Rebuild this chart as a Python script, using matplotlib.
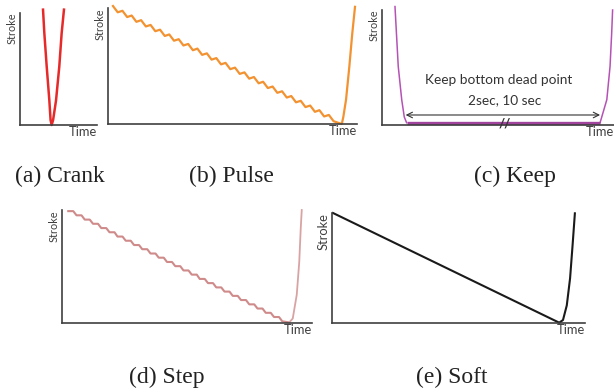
import numpy as np
import matplotlib.pyplot as plt

W, H = 614, 390

# (a) Crank
crank_t = [29.9, 31.6, 34.7, 38.1, 39.7, 41.1, 43.0, 46.8, 51.0, 54.1, 57.1]
crank_s = [103, 82, 52, 22, 4.5, 0, 4.5, 22, 52, 82, 103]

# (b) Pulse: ripple peaks / troughs, then the return stroke
pulse_peak_t = [2.0, 5.8, 9.5, 13.3, 17.1, 20.9, 24.6, 28.4, 32.2, 35.9, 39.7, 43.5,
                47.2, 51.0, 54.8, 58.6, 62.3, 66.1, 69.9, 73.6, 77.4, 81.2, 84.9, 88.7]
pulse_peak_s = [101.7, 97.6, 93.5, 89.5, 85.4, 81.3, 77.2, 73.1, 69.0, 65.0, 60.9, 56.8,
                52.7, 48.6, 44.5, 40.5, 36.4, 32.3, 28.2, 24.1, 20.0, 15.9, 11.9, 7.8]
pulse_trough_t = [3.9, 7.7, 11.4, 15.2, 19.0, 22.8, 26.5, 30.3, 34.1, 37.8, 41.6, 45.4,
                  49.1, 52.9, 56.7, 60.5, 64.2, 68.0, 71.8, 75.5, 79.3, 83.1, 86.8, 90.6]
pulse_trough_s = [96.3, 92.2, 88.1, 84.1, 80.0, 75.9, 71.8, 67.7, 63.6, 59.6, 55.5, 51.4,
                  47.3, 43.2, 39.1, 35.1, 31.0, 26.9, 22.8, 18.7, 14.6, 10.5, 6.5, 2.4]
pulse_rise_t = [93.9, 94.5, 95.6, 96.9, 98.1, 99.2]
pulse_rise_s = [0, 6, 21, 49, 78, 101]

# (c) Keep
keep_down_t = [5.6, 7.0, 8.5, 9.6, 10.6]
keep_down_s = [103, 51, 22, 7, 2]
keep_hold_t = [10.6, 94.0]
keep_hold_s = [2, 2]
keep_up_t = [94.0, 96.9, 98.3, 99.0, 99.4]
keep_up_s = [2, 22, 51, 80, 100]

# (d) Step
step_start_t = [2.5, 5.8, 9.1, 12.4, 15.7, 19.0, 22.2, 25.5, 28.8, 32.1, 35.4, 38.7, 42.0,
                45.3, 48.6, 51.9, 55.1, 58.4, 61.7, 65.0, 68.3, 71.6, 74.9, 78.2, 81.5, 84.8]
step_level = [99.0, 95.3, 91.5, 87.8, 84.0, 80.3, 76.5, 72.8, 69.0, 65.3, 61.5, 57.8, 54.0,
              50.3, 46.5, 42.8, 39.0, 35.3, 31.5, 27.8, 24.0, 20.3, 16.5, 12.8, 9.0, 5.3]
step_end_t = [88.1, 90.9]
step_end_s = [1.5, 0.5]
step_rise_t = [90.9, 92.3, 93.9, 94.9, 95.5, 95.9]
step_rise_s = [0.5, 4, 25, 54, 84, 100]

# (e) Soft
soft_t = [0.4, 89.8, 91.3, 92.8, 94.1, 95.1, 96.0]
soft_s = [100, 0.3, 2.7, 16, 40.6, 71, 99.7]

captions = ['(a) Crank', '(b) Pulse', '(c) Keep', '(d) Step', '(e) Soft']
caption_xy = [(60, 176), (231, 176), (515, 176), (167, 377), (452, 377)]

AX_COL = '#404040'
LAB_FONT = 'Lato'


def add_panel(fig, x0, y0, x1, y1, stroke_size=7.8):
    ax = fig.add_axes([x0 / W, 1 - y1 / H, (x1 - x0) / W, (y1 - y0) / H])
    ax.set_xlim(0, 100)
    ax.set_ylim(0, 100)
    for side in ['top', 'right']:
        ax.spines[side].set_visible(False)
    for side in ['left', 'bottom']:
        ax.spines[side].set_color(AX_COL)
        ax.spines[side].set_linewidth(1.2)
    ax.set_xticks([])
    ax.set_yticks([])
    ax.patch.set_alpha(0)
    ax.annotate('Stroke', xy=(0, 1), xycoords='axes fraction', xytext=(-2, 0),
                textcoords='offset points', rotation=90, ha='right', va='top',
                fontsize=stroke_size, color=AX_COL, family=LAB_FONT)
    ax.annotate('Time', xy=(1, 0), xycoords='axes fraction', xytext=(0, -1),
                textcoords='offset points', ha='right', va='top',
                fontsize=9.3, color=AX_COL, family=LAB_FONT)
    return ax


fig = plt.figure(figsize=(W / 100, H / 100), dpi=100)

# (a)
ax = add_panel(fig, 20, 13, 97, 125)
ax.plot(crank_t, crank_s, color='#e62a2a', lw=1.8, clip_on=False, solid_joinstyle='round')

# (b)
ax = add_panel(fig, 108, 8, 357, 124)
pulse_t = list(np.ravel(np.column_stack([pulse_peak_t, pulse_trough_t]))) + pulse_rise_t
pulse_s = list(np.ravel(np.column_stack([pulse_peak_s, pulse_trough_s]))) + pulse_rise_s
ax.plot(pulse_t, pulse_s, color='#f39230', lw=1.6, clip_on=False, solid_joinstyle='round')

# (c)
ax = add_panel(fig, 382, 10, 614, 125)
ax.plot(keep_down_t, keep_down_s, color='#b552b5', lw=1.1, clip_on=False)
ax.plot(keep_up_t, keep_up_s, color='#b552b5', lw=1.1, clip_on=False)
ax.plot(keep_hold_t, keep_hold_s, color='#a0449e', lw=2.4, clip_on=False,
        solid_capstyle='butt')
ax.annotate('', xy=(keep_hold_t[0] - 0.4, 8.7), xytext=(keep_hold_t[1], 8.7),
            arrowprops=dict(arrowstyle='<->', color='#333333', lw=0.8,
                            shrinkA=0, shrinkB=0))
ax.text(50.2, 39, 'Keep bottom dead point', ha='center', va='center',
        fontsize=9.8, color='#333333', family=LAB_FONT)
ax.text(53, 21.7, '2sec, 10 sec', ha='center', va='center',
        fontsize=9.8, color='#333333', family=LAB_FONT)
ax.text(53, 1.5, '//', ha='center', va='center', fontsize=9.5, color='#333333',
        family=LAB_FONT, fontweight='bold')

# (d)
ax = add_panel(fig, 62, 210, 312, 323)
step_t, step_s = [], []
for t0, lev in zip(step_start_t, step_level):
    step_t += [t0, t0 + 2.0]
    step_s += [lev, lev]
step_t += step_end_t
step_s += step_end_s
ax.plot(step_t, step_s, color='#cf8a8a', lw=1.5, clip_on=False, solid_joinstyle='round')
ax.plot(step_rise_t, step_rise_s, color='#d9a3a3', lw=1.3, clip_on=False)

# (e)
ax = add_panel(fig, 332, 213, 585, 323, stroke_size=9.3)
ax.plot(soft_t, soft_s, color='#1a1a1a', lw=1.5, clip_on=False, solid_joinstyle='round')

for txt, (cx, cy) in zip(captions, caption_xy):
    fig.text(cx / W, 1 - cy / H, txt, ha='center', va='center', fontsize=17,
             family='Liberation Serif', color='#222222')

fig.savefig('out.png', dpi=100)
